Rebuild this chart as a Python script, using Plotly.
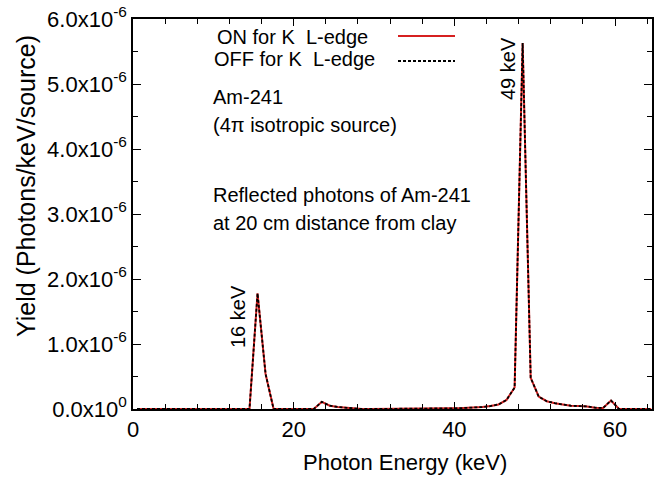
import plotly.graph_objects as go

# ---------------- data ----------------
energy_kev = [0.5, 1.5, 2.5, 3.5, 4.5, 5.5, 6.5, 7.5, 8.5, 9.5,
              10.5, 11.5, 12.5, 13.5, 14.5, 15.5, 16.5, 17.5, 18.5, 19.5,
              20.5, 21.5, 22.5, 23.5, 24.5, 25.5, 26.5, 27.5, 28.5, 29.5,
              30.5, 31.5, 32.5, 33.5, 34.5, 35.5, 36.5, 37.5, 38.5, 39.5,
              40.5, 41.5, 42.5, 43.5, 44.5, 45.5, 46.5, 47.5, 48.5, 49.5,
              50.5, 51.5, 52.5, 53.5, 54.5, 55.5, 56.5, 57.5, 58.5, 59.5,
              60.5, 61.5, 62.5, 63.5, 64.5]

# yields in units of 1e-6 photons/keV/source
yield_on_e6 = [0, 0, 0, 0, 0, 0, 0, 0, 0, 0,
               0, 0, 0, 0, 0, 1.78, 0.54, 0, 0, 0,
               0, 0, 0, 0.11, 0.05, 0.03, 0.02, 0, 0, 0,
               0, 0, 0, 0, 0, 0, 0, 0.005, 0.008, 0.01,
               0.012, 0.015, 0.02, 0.03, 0.045, 0.07, 0.14, 0.33, 5.63, 0.48,
               0.19, 0.12, 0.09, 0.065, 0.05, 0.045, 0.04, 0.02, 0.015, 0.13,
               0, 0, 0, 0, 0]
yield_off_e6 = [0, 0, 0, 0, 0, 0, 0, 0, 0, 0,
                0, 0, 0, 0, 0, 1.78, 0.54, 0, 0, 0,
                0, 0, 0, 0.11, 0.05, 0.03, 0.02, 0, 0, 0,
                0, 0, 0, 0, 0, 0, 0, 0.005, 0.008, 0.01,
                0.012, 0.015, 0.02, 0.03, 0.045, 0.07, 0.14, 0.33, 5.63, 0.48,
                0.19, 0.12, 0.09, 0.065, 0.05, 0.045, 0.04, 0.02, 0.015, 0.13,
                0, 0, 0, 0, 0]

series_names = ["ON for K  L-edge", "OFF for K  L-edge"]

x_label_vals = [0, 20, 40, 60]
x_minor_step = 4
y_tick_vals_e6 = [0, 1, 2, 3, 4, 5, 6]
y_tick_text = ["0.0x10<sup>0</sup>", "1.0x10<sup>-6</sup>", "2.0x10<sup>-6</sup>",
               "3.0x10<sup>-6</sup>", "4.0x10<sup>-6</sup>", "5.0x10<sup>-6</sup>",
               "6.0x10<sup>-6</sup>"]

yield_on = [v * 1e-6 for v in yield_on_e6]
yield_off = [v * 1e-6 for v in yield_off_e6]
y_tick_vals = [v * 1e-6 for v in y_tick_vals_e6]

# ---------------- figure ----------------
FONT = "Liberation Sans, Arial, Helvetica, sans-serif"
W, H = 654, 477
L, R, T, B = 133, 2, 19, 68
pw, ph = W - L - R, H - T - B
RED = "#d62020"

def px(xp):
    return (xp - L) / pw

def py(yp):
    return (H - B - yp) / ph

fig = go.Figure()
fig.add_trace(go.Scatter(x=energy_kev, y=yield_on, mode="lines", name=series_names[0],
                         line=dict(color=RED, width=2.0), showlegend=False))
fig.add_trace(go.Scatter(x=energy_kev, y=yield_off, mode="lines", name=series_names[1],
                         line=dict(color="black", width=1.8, dash="3px,2px"), showlegend=False))

fig.update_layout(
    width=W, height=H,
    margin=dict(l=L, r=R, t=T, b=B, autoexpand=False),
    paper_bgcolor="white", plot_bgcolor="white",
    font=dict(family=FONT, color="black"),
    showlegend=False,
)
fig.update_xaxes(range=[0, 64.6], showgrid=False, zeroline=False,
                 showline=True, linecolor="black", linewidth=1.5, mirror="ticks",
                 ticks="inside", ticklen=7, tickcolor="black", tickwidth=1.2,
                 tickvals=x_label_vals,
                 tickfont=dict(size=22, family=FONT),
                 minor=dict(dtick=x_minor_step, tick0=0, ticks="inside", ticklen=5,
                            tickcolor="black", tickwidth=1.2))
fig.update_yaxes(range=[0, 6e-6], showgrid=False, zeroline=False,
                 showline=True, linecolor="black", linewidth=1.5, mirror="ticks",
                 ticks="inside", ticklen=8, tickcolor="black", tickwidth=1.2,
                 tickvals=y_tick_vals, ticktext=y_tick_text,
                 tickfont=dict(size=22, family=FONT),
                 minor=dict(dtick=0.5e-6, ticks="inside", ticklen=5, tickcolor="black", tickwidth=1.2))

ann = []
# axis titles
ann.append(dict(text="Photon Energy (keV)", x=px(405), y=py(462), xref="paper", yref="paper",
                showarrow=False, font=dict(size=22), xanchor="center", yanchor="middle"))
ann.append(dict(text="Yield (Photons/keV/source)", x=px(26), y=py(186), xref="paper", yref="paper",
                showarrow=False, font=dict(size=25), textangle=-90, xanchor="center", yanchor="middle"))
# legend (text left, sample line right, gnuplot style)
ann.append(dict(text=series_names[0], x=px(215), y=py(37), xref="paper", yref="paper",
                showarrow=False, font=dict(size=20), xanchor="left", yanchor="middle"))
ann.append(dict(text=series_names[1], x=px(212), y=py(59), xref="paper", yref="paper",
                showarrow=False, font=dict(size=20), xanchor="left", yanchor="middle"))
# info text
for txt, yy in [("Am-241", 97), ("(4\u03c0 isotropic source)", 125),
                ("Reflected photons of Am-241", 195), ("at 20 cm distance from clay", 223)]:
    ann.append(dict(text=txt, x=px(211), y=py(yy), xref="paper", yref="paper",
                    showarrow=False, font=dict(size=20), xanchor="left", yanchor="middle"))
# peak labels
ann.append(dict(text="16 keV", x=px(238), y=py(317), xref="paper", yref="paper",
                showarrow=False, font=dict(size=20), textangle=-90, xanchor="center", yanchor="middle"))
ann.append(dict(text="49 keV", x=px(508), y=py(69), xref="paper", yref="paper",
                showarrow=False, font=dict(size=20), textangle=-90, xanchor="center", yanchor="middle"))
fig.update_layout(annotations=ann)

fig.add_shape(type="line", xref="paper", yref="paper", x0=px(398), x1=px(455), y0=py(36), y1=py(36),
              line=dict(color=RED, width=2.0))
fig.add_shape(type="line", xref="paper", yref="paper", x0=px(398), x1=px(455), y0=py(61), y1=py(61),
              line=dict(color="black", width=1.8, dash="3px,2px"))

fig.write_html("out.html", config={"displayModeBar": False},
               post_script="document.body.style.margin='0px';")
